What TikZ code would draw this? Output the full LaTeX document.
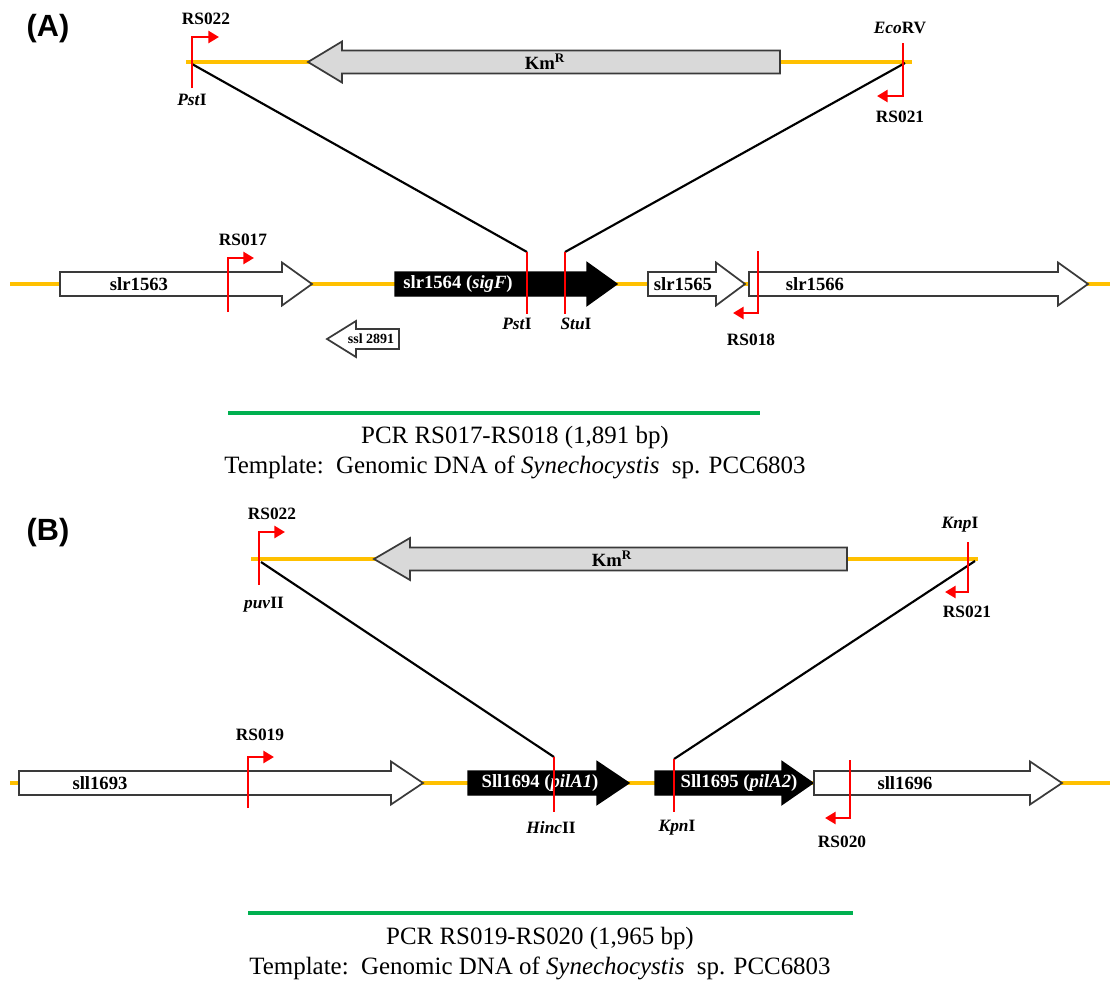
\documentclass[tikz,border=0pt]{standalone}
\usepackage{fontspec}
\setmainfont{Liberation Serif}
\newfontfamily\panelfont{Liberation Sans}
\usetikzlibrary{arrows.meta}
\definecolor{dnaY}{HTML}{FFC000}
\definecolor{pcrG}{HTML}{00B050}
\definecolor{kmgray}{HTML}{D9D9D9}
\definecolor{outl}{HTML}{3A3A3A}
% forward gene arrow: #1 left x, #2 notch x, #3 tip x, #4 centre y, #5 style
\newcommand\fwdgene[5]{\path[#5] (#1,#4-12) -- (#2,#4-12) -- (#2,#4-21.5) -- (#3,#4) -- (#2,#4+21.5) -- (#2,#4+12) -- (#1,#4+12) -- cycle;}
% reverse gene arrow: #1 tip x, #2 notch x, #3 right x, #4 centre y, #5 body half, #6 head half, #7 style
\newcommand\revgene[7]{\path[#7] (#1,#4) -- (#2,#4-#6) -- (#2,#4-#5) -- (#3,#4-#5) -- (#3,#4+#5) -- (#2,#4+#5) -- (#2,#4+#6) -- cycle;}
\begin{document}
\begin{tikzpicture}[x=0.75pt,y=-0.75pt,
 dna/.style={draw=dnaY,line width=3.4pt},
 pcr/.style={draw=pcrG,line width=3pt},
 site/.style={draw=red,line width=2.1pt},
 primer/.style={draw=red,line width=2.1pt,-{Triangle[length=8pt,width=9pt]}},
 junction/.style={draw=black,line width=1.6pt},
 whitegene/.style={draw=outl,fill=white,line width=1.3pt},
 blackgene/.style={draw=black,fill=black,line width=1pt},
 kmgene/.style={draw=outl,fill=kmgray,line width=1.3pt},
 lab/.style={font=\fontsize{13}{15}\selectfont\bfseries,inner sep=0pt},
 glab/.style={font=\fontsize{14}{16}\selectfont\bfseries,inner sep=0pt},
 smalllab/.style={font=\fontsize{10.5}{12}\selectfont\bfseries,inner sep=0pt},
 wlab/.style={glab,text=white},
 big/.style={font=\fontsize{18.7}{23}\selectfont,inner sep=0pt},
 panel/.style={font=\panelfont\fontsize{23}{27}\selectfont\bfseries,inner sep=0pt}
]
\useasboundingbox (0,0) rectangle (1120,983);

% ================= Panel A =================
\node[panel] (pA) at (48,29) {(A)};

% construct (top)
\coordinate (cA1) at (186,62); \coordinate (cA2) at (912,62);
\draw[dna] (cA1) -- (cA2);
\revgene{308}{342}{780}{62}{11.5}{20.5}{kmgene}
\node[glab] (kmA) at (545,62) {Km\textsuperscript{R}};

% genomic row A
\coordinate (gA1) at (10,284); \coordinate (gA2) at (1110,284);
\draw[dna] (gA1) -- (gA2);
\fwdgene{60}{282}{312}{284}{whitegene}
\node[glab] (g1563) at (139,284) {slr1563};
\revgene{327}{356}{399}{339}{10}{18}{whitegene}
\node[smalllab] (g2891) at (371,339) {ssl 2891};
\fwdgene{395}{587}{617}{284}{blackgene}
\node[wlab] (g1564) at (458,284) {slr1564 (\textit{sigF})};
\fwdgene{648}{716}{745}{284}{whitegene}
\node[glab] (g1565) at (683,284) {slr1565};
\fwdgene{749}{1058}{1088}{284}{whitegene}
\node[glab] (g1566) at (815,284) {slr1566};

% restriction sites in genome A
\coordinate (pstAt) at (527,252); \coordinate (pstAb) at (527,314);
\coordinate (stuAt) at (565,252); \coordinate (stuAb) at (565,314);
% construct ends A
\coordinate (jA1) at (192,64); \coordinate (jA2) at (905,63);
\draw[junction] (jA1) -- (pstAt);
\draw[junction] (jA2) -- (stuAt);
\draw[site] (pstAt) -- (pstAb);
\draw[site] (stuAt) -- (stuAb);
\node[lab] (pstAlab) at (517,324) {\textit{Pst}I};
\node[lab] (stuAlab) at (576,324) {\textit{Stu}I};

% primers A
\coordinate (r22a) at (192,88); \coordinate (r22b) at (192,37); \coordinate (r22c) at (219,37);
\draw[primer] (r22a) -- (r22b) -- (r22c);
\node[lab] (rs22A) at (206,19) {RS022};
\node[lab] (pstTop) at (192,100) {\textit{Pst}I};

\coordinate (r21a) at (903,43); \coordinate (r21b) at (903,96); \coordinate (r21c) at (877,96);
\draw[primer] (r21a) -- (r21b) -- (r21c);
\node[lab] (ecoA) at (900,28) {\textit{Eco}RV};
\node[lab] (rs21A) at (900,117) {RS021};

\coordinate (r17a) at (228,312); \coordinate (r17b) at (228,258); \coordinate (r17c) at (254,258);
\draw[primer] (r17a) -- (r17b) -- (r17c);
\node[lab] (rs17) at (243,240) {RS017};

\coordinate (r18a) at (758,251); \coordinate (r18b) at (758,313); \coordinate (r18c) at (733,313);
\draw[primer] (r18a) -- (r18b) -- (r18c);
\node[lab] (rs18) at (751,340) {RS018};

% PCR A
\coordinate (pcA1) at (228,413); \coordinate (pcA2) at (760,413);
\draw[pcr] (pcA1) -- (pcA2);
\node[big] (pcrA) at (515,437) {PCR RS017-RS018 (1,891 bp)};
\node[big] (tmpA) at (515,467) {Template:\enspace Genomic DNA of \textit{Synechocystis}\enspace sp. PCC6803};

% ================= Panel B =================
\node[panel] (pB) at (48,533) {(B)};

\coordinate (cB1) at (251,559); \coordinate (cB2) at (978,559);
\draw[dna] (cB1) -- (cB2);
\revgene{374}{410}{847}{559}{11.5}{21}{kmgene}
\node[glab] (kmB) at (612,559) {Km\textsuperscript{R}};

\coordinate (gB1) at (10,783); \coordinate (gB2) at (1110,783);
\draw[dna] (gB1) -- (gB2);
\fwdgene{19}{391}{423}{783}{whitegene}
\node[glab] (g1693) at (100,783) {sll1693};
\fwdgene{468}{597}{629}{783}{blackgene}
\node[wlab] (g1694) at (540,783) {Sll1694 (\textit{pilA1})};
\fwdgene{655}{782}{813}{783}{blackgene}
\node[wlab] (g1695) at (739,783) {Sll1695 (\textit{pilA2})};
\fwdgene{814}{1030}{1062}{783}{whitegene}
\node[glab] (g1696) at (905,783) {sll1696};

\coordinate (hinBt) at (554,757); \coordinate (hinBb) at (554,812);
\coordinate (kpnBt) at (674,759); \coordinate (kpnBb) at (674,812);
\coordinate (jB1) at (261,562); \coordinate (jB2) at (975,561);
\draw[junction] (jB1) -- (hinBt);
\draw[junction] (jB2) -- (kpnBt);
\draw[site] (hinBt) -- (hinBb);
\draw[site] (kpnBt) -- (kpnBb);
\node[lab] (hinBlab) at (551,828) {\textit{Hinc}II};
\node[lab] (kpnBlab) at (677,828) {\textit{Kpn}I};

\coordinate (s22a) at (259,585); \coordinate (s22b) at (259,532); \coordinate (s22c) at (285,532);
\draw[primer] (s22a) -- (s22b) -- (s22c);
\node[lab] (rs22B) at (272,514) {RS022};
\node[lab] (puvB) at (264,605) {\textit{puv}II};

\coordinate (s21a) at (968,542); \coordinate (s21b) at (968,592); \coordinate (s21c) at (945,592);
\draw[primer] (s21a) -- (s21b) -- (s21c);
\node[lab] (knpB) at (960,525) {\textit{Knp}I};
\node[lab] (rs21B) at (967,612) {RS021};

\coordinate (r19a) at (248,808); \coordinate (r19b) at (248,757); \coordinate (r19c) at (274,757);
\draw[primer] (r19a) -- (r19b) -- (r19c);
\node[lab] (rs19) at (260,735) {RS019};

\coordinate (r20a) at (850,760); \coordinate (r20b) at (850,818); \coordinate (r20c) at (825,818);
\draw[primer] (r20a) -- (r20b) -- (r20c);
\node[lab] (rs20) at (842,842) {RS020};

\coordinate (pcB1) at (248,913); \coordinate (pcB2) at (853,913);
\draw[pcr] (pcB1) -- (pcB2);
\node[big] (pcrB) at (540,938) {PCR RS019-RS020 (1,965 bp)};
\node[big] (tmpB) at (540,968) {Template:\enspace Genomic DNA of \textit{Synechocystis}\enspace sp. PCC6803};
\end{tikzpicture}
\end{document}
